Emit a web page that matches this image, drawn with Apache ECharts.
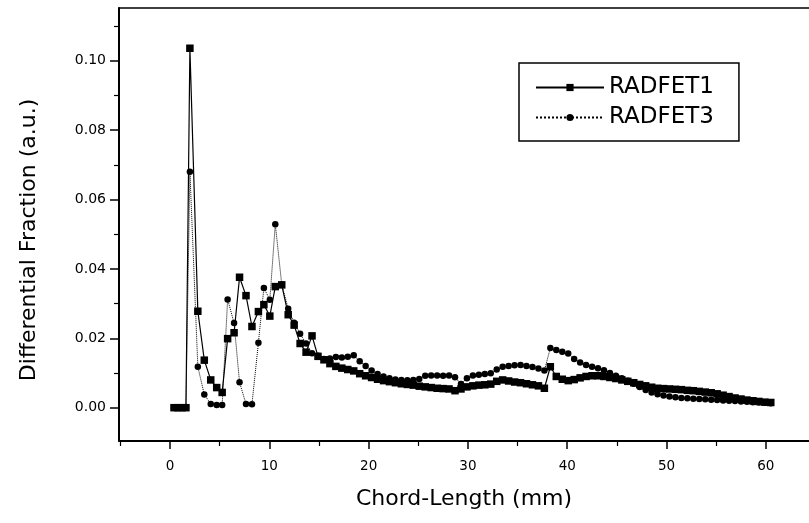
<!DOCTYPE html>
<html>
<head>
    <meta charset="utf-8" />
    <title>Chord-Length distribution</title>
    <script src="https://cdnjs.cloudflare.com/ajax/libs/echarts/6.0.0/echarts.min.js"></script>
    <style>
        body, html {
            margin: 0;
            padding: 0;
            background: #fff;
        }
        #chart {
            width: 809px;
            height: 523px;
        }
    </style>
</head>
<body>
<div id="chart"></div>
<script type="text/javascript">
    // chord length (mm), shared by both curves
    var chordLength = [
        0.4, 0.8, 1.2, 1.6, 2.0, 2.8, 3.45, 4.1, 4.7, 5.25, 5.8, 6.45, 7.0, 7.65, 8.25, 8.9,
        9.45, 10.05, 10.6, 11.25, 11.9, 12.5, 13.1, 13.7, 14.3, 14.9,
        15.5, 16.1, 16.7, 17.3, 17.9, 18.5, 19.1, 19.7, 20.3, 20.9, 21.5, 22.1,
        22.7, 23.3, 23.9, 24.5, 25.1, 25.7, 26.3, 26.9, 27.5, 28.1, 28.7, 29.3,
        29.9, 30.5, 31.1, 31.7, 32.3, 32.9, 33.5, 34.1, 34.7, 35.3, 35.9, 36.5,
        37.1, 37.7, 38.3, 38.9, 39.5, 40.1, 40.7, 41.3, 41.9, 42.5, 43.1, 43.7,
        44.3, 44.9, 45.5, 46.1, 46.7, 47.3, 47.9, 48.5, 49.1, 49.7, 50.3, 50.9,
        51.5, 52.1, 52.7, 53.3, 53.9, 54.5, 55.1, 55.7, 56.3, 56.9, 57.5, 58.1,
        58.7, 59.3, 59.9, 60.5
    ];
    var radfet1 = [
        0, 0, 0, 0, 0.1036, 0.0278, 0.0137, 0.0080, 0.0058, 0.0044, 0.0199, 0.0216, 0.0376, 0.0323, 0.0234, 0.0277,
        0.0297, 0.0264, 0.0349, 0.0354, 0.0268, 0.0238, 0.0185, 0.0160, 0.0207, 0.0148,
        0.0138, 0.0127, 0.0119, 0.0114, 0.0110, 0.0106, 0.0098, 0.0092, 0.0087, 0.0082, 0.0078, 0.0075,
        0.0072, 0.0069, 0.0067, 0.0065, 0.0062, 0.0060, 0.0058, 0.0056, 0.0055, 0.0054, 0.0049, 0.0054,
        0.0060, 0.0063, 0.0065, 0.0066, 0.0068, 0.0076, 0.0080, 0.0077, 0.0074, 0.0072, 0.0069, 0.0066,
        0.0063, 0.0056, 0.0118, 0.0090, 0.0082, 0.0078, 0.0081, 0.0086, 0.0090, 0.0092, 0.0092, 0.0090,
        0.0087, 0.0084, 0.0080, 0.0076, 0.0072, 0.0067, 0.0063, 0.0059, 0.0056, 0.0055, 0.0054, 0.0053,
        0.0052, 0.0050, 0.0049, 0.0047, 0.0045, 0.0043, 0.0040, 0.0036, 0.0032, 0.0028, 0.0025, 0.0022,
        0.0020, 0.0018, 0.0016, 0.0015
    ];
    var radfet3 = [
        0, 0, 0, 0, 0.0680, 0.0118, 0.0038, 0.0011, 0.0008, 0.0008, 0.0312, 0.0244, 0.0073, 0.0011, 0.0010, 0.0187,
        0.0345, 0.0311, 0.0529, 0.0355, 0.0285, 0.0245, 0.0213, 0.0185, 0.0157, 0.0150,
        0.0140, 0.0142, 0.0146, 0.0145, 0.0147, 0.0151, 0.0134, 0.0120, 0.0107, 0.0097, 0.0090, 0.0085,
        0.0081, 0.0080, 0.0079, 0.0080, 0.0083, 0.0092, 0.0093, 0.0093, 0.0092, 0.0093, 0.0088, 0.0068,
        0.0085, 0.0093, 0.0095, 0.0097, 0.0099, 0.0110, 0.0118, 0.0120, 0.0122, 0.0123, 0.0120, 0.0117,
        0.0113, 0.0107, 0.0172, 0.0166, 0.0161, 0.0156, 0.0140, 0.0130, 0.0123, 0.0118, 0.0114, 0.0108,
        0.0100, 0.0092, 0.0085, 0.0078, 0.0069, 0.0060, 0.0051, 0.0044, 0.0039, 0.0035, 0.0032, 0.0030,
        0.0028, 0.0027, 0.0026, 0.0025, 0.0024, 0.0023, 0.0022, 0.0021, 0.0020, 0.0019, 0.0018, 0.0017,
        0.0016, 0.0015, 0.0014, 0.0013
    ];
    var xMajorTicks = [0, 10, 20, 30, 40, 50, 60];
    var xMinorTicks = [-5, 5, 15, 25, 35, 45, 55];
    var yMajorTicks = [0, 0.02, 0.04, 0.06, 0.08, 0.10];
    var yMinorTicks = [0.01, 0.03, 0.05, 0.07, 0.09, 0.11];

    var font = 'DejaVu Sans';
    var black = '#000';

    function pairs(xs, ys) {
        return xs.map(function (x, i) { return [x, ys[i]]; });
    }

    var chart = echarts.init(document.getElementById('chart'));
    var xRange = { min: -5.14, max: 64.35 };
    var yRange = { min: -0.0096, max: 0.1152 };

    var option = {
        animation: false,
        backgroundColor: '#fff',
        grid: {
            left: 119,
            right: 0,
            top: 8,
            bottom: 82
        },
        legend: {
            orient: 'vertical',
            left: 519,
            top: 63,
            padding: [13, 25, 12, 16],
            itemGap: 7,
            itemWidth: 68,
            itemHeight: 9,
            borderColor: black,
            borderWidth: 1.5,
            textStyle: { fontFamily: font, fontSize: 23, color: black },
            data: ['RADFET1', 'RADFET3']
        },
        xAxis: [
            {
                type: 'value',
                position: 'bottom',
                min: xRange.min,
                max: xRange.max,
                axisLine: { onZero: false, lineStyle: { color: black, width: 2 } },
                axisTick: { customValues: xMajorTicks, length: 8, lineStyle: { color: black, width: 1.5 } },
                axisLabel: { customValues: xMajorTicks, margin: 18, fontFamily: font, fontSize: 13.5, color: black },
                splitLine: { show: false },
                name: 'Chord-Length (mm)',
                nameLocation: 'middle',
                nameGap: 47,
                nameTextStyle: { fontFamily: font, fontSize: 22, color: black }
            },
            {
                type: 'value',
                position: 'bottom',
                min: xRange.min,
                max: xRange.max,
                axisLine: { show: false, onZero: false },
                axisTick: { customValues: xMinorTicks, length: 5, lineStyle: { color: black, width: 1.2 } },
                axisLabel: { show: false },
                splitLine: { show: false }
            },
            {
                // plain frame line along the top
                type: 'value',
                position: 'top',
                min: xRange.min,
                max: xRange.max,
                axisLine: { show: true, onZero: false, lineStyle: { color: black, width: 1.5 } },
                axisTick: { show: false },
                axisLabel: { show: false },
                splitLine: { show: false }
            }
        ],
        yAxis: [
            {
                type: 'value',
                position: 'left',
                min: yRange.min,
                max: yRange.max,
                axisLine: { show: true, onZero: false, lineStyle: { color: black, width: 2 } },
                axisTick: { show: true, customValues: yMajorTicks, length: 9, lineStyle: { color: black, width: 1.5 } },
                axisLabel: {
                    customValues: yMajorTicks,
                    margin: 13,
                    fontFamily: font,
                    fontSize: 14,
                    color: black,
                    formatter: function (v) { return v.toFixed(2); }
                },
                splitLine: { show: false },
                name: 'Differential Fraction (a.u.)',
                nameLocation: 'middle',
                nameGap: 79,
                nameTextStyle: { fontFamily: font, fontSize: 22, color: black, padding: [0, 31, 0, 0] }
            },
            {
                type: 'value',
                position: 'left',
                min: yRange.min,
                max: yRange.max,
                axisLine: { show: false, onZero: false },
                axisTick: { show: true, customValues: yMinorTicks, length: 5, lineStyle: { color: black, width: 1.2 } },
                axisLabel: { show: false },
                splitLine: { show: false }
            }
        ],
        series: [
            {
                name: 'RADFET1',
                type: 'line',
                data: pairs(chordLength, radfet1),
                symbol: 'rect',
                symbolSize: 7.5,
                color: black,
                lineStyle: { color: black, width: 1.2, type: 'solid' },
                itemStyle: { color: black }
            },
            {
                name: 'RADFET3',
                type: 'line',
                data: pairs(chordLength, radfet3),
                symbol: 'circle',
                symbolSize: 6.5,
                color: black,
                lineStyle: { color: black, width: 1, type: 'dotted' },
                itemStyle: { color: black }
            }
        ]
    };
    chart.setOption(option);
</script>
</body>
</html>
